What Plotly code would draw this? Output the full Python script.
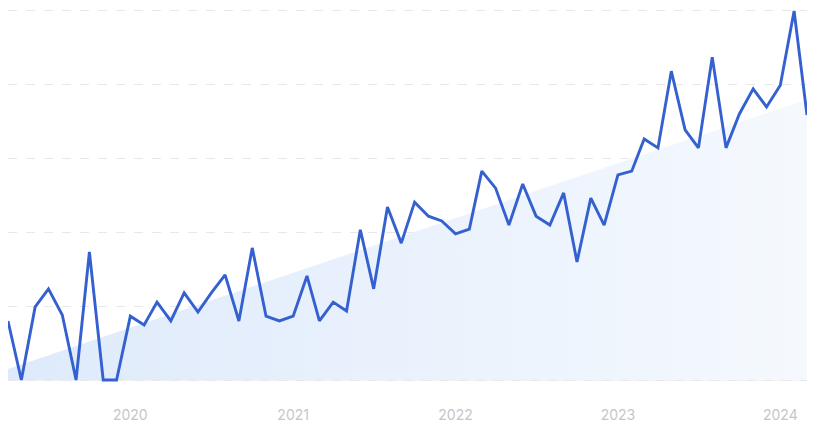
import plotly.graph_objects as go
import pandas as pd

dates = pd.date_range("2019-04-01", periods=60, freq="MS")
values = [16.0, 0, 19.8, 24.7, 17.6, 0, 34.7, 0, 0, 17.3,
          14.9, 21.1, 16.0, 23.6, 18.4, 23.6, 28.5, 16.0, 35.8, 17.3,
          16.0, 17.3, 28.2, 16.0, 21.1, 18.7, 40.7, 24.7, 46.9, 37.1,
          48.2, 44.4, 43.1, 39.6, 40.9, 56.6, 52.0, 42.0, 53.1, 44.4,
          42.0, 50.7, 32.0, 49.3, 42.0, 55.6, 56.6, 65.3, 62.9, 83.7,
          67.8, 62.9, 87.5, 62.9, 72.1, 78.9, 74.0, 79.9, 100, 71.8]
trend_x = [dates[0], dates[-1]]
trend_y = [3.0, 76.0]
year_ticks = ["2020-01-01", "2021-01-01", "2022-01-01", "2023-01-01", "2024-01-01"]
year_labels = ["2020", "2021", "2022", "2023", "2024"]

fig = go.Figure()
fig.add_trace(go.Scatter(
    x=trend_x, y=trend_y, mode="lines", line=dict(width=0),
    fill="tozeroy",
    fillgradient=dict(type="horizontal",
                      colorscale=[[0, "rgba(222,234,251,1)"], [1, "rgba(245,249,254,1)"]]),
    hoverinfo="skip", showlegend=False))
fig.add_trace(go.Scatter(
    x=dates, y=values, mode="lines",
    line=dict(color="#3461cf", width=2.9),
    showlegend=False))

fig.add_shape(type="line", xref="paper", yref="y", x0=0, x1=1, y0=0, y1=0,
              line=dict(color="#e2e6ec", width=1), layer="below")

fig.update_layout(
    width=807, height=416,
    margin=dict(l=0, r=8, t=0, b=40, autoexpand=False),
    paper_bgcolor="white", plot_bgcolor="white",
    font=dict(family="Inter, Roboto, sans-serif"),
    xaxis=dict(
        range=["2019-04-01", "2024-03-01"],
        tickmode="array", tickvals=year_ticks, ticktext=year_labels,
        showgrid=False, zeroline=False, showline=False,
        ticks="outside", ticklen=18, tickcolor="rgba(0,0,0,0)",
        tickfont=dict(size=14, color="#c6c6c6"),
    ),
    yaxis=dict(
        range=[-1.08, 100.81], dtick=20, tick0=0,
        showticklabels=False, showgrid=True, gridcolor="#e8e8e8",
        griddash="dash", gridwidth=1, zeroline=False, showline=False,
    ),
)
fig.write_html("out.html")
